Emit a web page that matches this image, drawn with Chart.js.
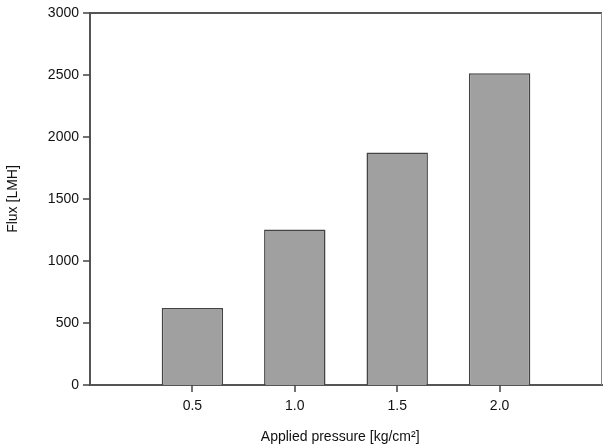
<!DOCTYPE html>
<html>
<head>
<meta charset="utf-8">
<script src="https://cdn.jsdelivr.net/npm/chart.js@4/dist/chart.umd.min.js"></script>
<style>
  html, body { margin: 0; padding: 0; background: #fff; }
  #wrap { width: 603px; height: 448px; }
</style>
</head>
<body>
<div id="wrap"><canvas id="chart" width="603" height="448"></canvas></div>
<script>
// 压力（kg/cm²）与通量（LMH）
var pressures = [0.5, 1.0, 1.5, 2.0];
var flux = [620, 1255, 1875, 2515];
var yTicks = [0, 500, 1000, 1500, 2000, 2500, 3000];

// 上、右边框 + 轴外刻度线
var frame = {
    id: "frame",
    afterDraw: function (chart) {
        var a = chart.chartArea, ctx = chart.ctx;
        var xs = chart.scales.x, ys = chart.scales.y;
        ctx.save();
        ctx.strokeStyle = "#555";
        ctx.lineWidth = 2;
        ctx.beginPath();
        ctx.moveTo(a.left, a.top);
        ctx.lineTo(a.right, a.top);
        ctx.stroke();

        ctx.lineWidth = 1.5;
        ctx.strokeStyle = "#444";
        ctx.beginPath();
        xs.ticks.forEach(function (t) {
            var px = Math.round(xs.getPixelForValue(t.value));
            ctx.moveTo(px, a.bottom);
            ctx.lineTo(px, a.bottom + 7);
        });
        ys.ticks.forEach(function (t) {
            var py = Math.round(ys.getPixelForValue(t.value));
            ctx.moveTo(a.left, py);
            ctx.lineTo(a.left - 7, py);
        });
        ctx.stroke();

        ctx.strokeStyle = "#888";
        ctx.lineWidth = 1;
        ctx.beginPath();
        ctx.moveTo(a.right - 0.5, a.top);
        ctx.lineTo(a.right - 0.5, a.bottom);
        ctx.stroke();
        ctx.restore();
    }
};

var font = { family: "'Liberation Sans', Arial, sans-serif", size: 14 };

new Chart(document.getElementById("chart"), {
    type: "bar",
    data: {
        datasets: [{
            data: pressures.map(function (p, i) { return { x: p, y: flux[i] }; }),
            backgroundColor: "#a0a0a0",
            borderColor: "#444",
            borderWidth: 1.5,
            barPercentage: 0.6,
            categoryPercentage: 1
        }]
    },
    options: {
        responsive: false,
        animation: false,
        layout: { padding: { left: 0, top: 13, right: 1, bottom: 0 } },
        plugins: { legend: { display: false }, tooltip: { enabled: false } },
        scales: {
            x: {
                type: "linear",
                min: 0,
                max: 2.5,
                offset: false,
                afterBuildTicks: function (s) { s.ticks = pressures.map(function (v) { return { value: v }; }); },
                afterFit: function (s) { s.height = 63; },
                grid: { display: false, offset: false, drawTicks: true, tickLength: 7 },
                border: { display: true, color: "#555", width: 2 },
                ticks: {
                    padding: 6,
                    color: "#111",
                    font: font,
                    callback: function (v) { return Number(v).toFixed(1); }
                },
                title: {
                    display: true,
                    text: "Applied pressure [kg/cm²]   ",
                    color: "#111",
                    font: font,
                    padding: { top: 4, bottom: 2 }
                }
            },
            y: {
                min: 0,
                max: 3000,
                afterBuildTicks: function (s) { s.ticks = yTicks.map(function (v) { return { value: v }; }); },
                afterFit: function (s) { s.width = 90; },
                grid: { display: false, drawTicks: true, tickLength: 7 },
                border: { display: true, color: "#555", width: 2 },
                ticks: {
                    padding: 4,
                    color: "#111",
                    font: font,
                    callback: function (v) { return String(v); }
                },
                title: {
                    display: true,
                    text: "Flux [LMH]",
                    color: "#111",
                    font: font,
                    padding: { top: 5, bottom: 4 }
                }
            }
        }
    },
    plugins: [frame]
});
</script>
</body>
</html>
